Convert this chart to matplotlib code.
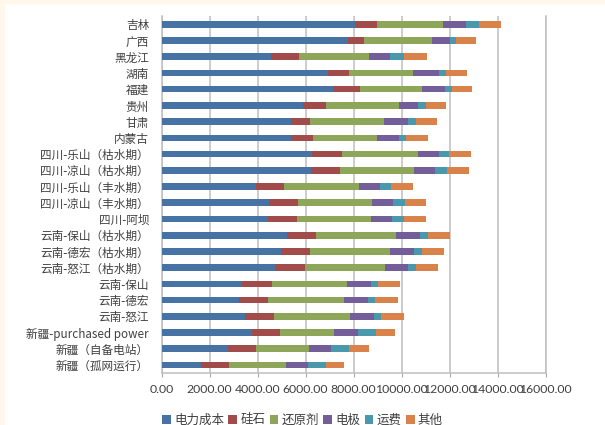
import matplotlib
matplotlib.use('Agg')
import matplotlib.pyplot as plt
from matplotlib.ticker import FormatStrFormatter
from matplotlib.patches import Rectangle
import numpy as np

plt.rcParams['font.family'] = ['Noto Sans CJK SC', 'DejaVu Sans']

# categories, top to bottom
regions = ['吉林', '广西', '黑龙江', '湖南', '福建', '贵州', '甘肃', '内蒙古',
           '四川-乐山（枯水期）', '四川-凉山（枯水期）', '四川-乐山（丰水期）',
           '四川-凉山（丰水期）', '四川-阿坝', '云南-保山（枯水期）',
           '云南-德宏（枯水期）', '云南-怒江（枯水期）', '云南-保山', '云南-德宏',
           '云南-怒江', '新疆-purchased power', '新疆（自备电站）', '新疆（孤网运行）']

power = [8060, 7760, 4550, 6930, 7130, 5910, 5380, 5380, 6270, 6220, 3930,
         4490, 4430, 5240, 4980, 4740, 3370, 3240, 3490, 3770, 2760, 1650]
silica = [900, 690, 1190, 890, 1120, 960, 790, 920, 1250, 1220, 1150,
          1180, 1220, 1200, 1220, 1220, 1220, 1200, 1200, 1180, 1190, 1180]
reductant = [2780, 2810, 2880, 2640, 2610, 3040, 3100, 2680, 3150, 3070, 3140,
             3080, 3080, 3330, 3330, 3330, 3130, 3170, 3170, 2230, 2210, 2350]
electrode = [920, 760, 900, 1100, 960, 790, 1010, 920, 880, 880, 890,
             880, 880, 1010, 1000, 980, 1010, 970, 990, 1000, 900, 900]
freight = [580, 250, 580, 300, 280, 310, 310, 290, 440, 510, 430,
           510, 500, 310, 310, 310, 280, 320, 300, 760, 760, 750]
other = [890, 830, 960, 880, 820, 820, 890, 900, 890, 890, 920,
         890, 900, 930, 930, 920, 930, 930, 950, 790, 810, 790]

series_names = ['电力成本', '硅石', '还原剂', '电极', '运费', '其他']
series = [power, silica, reductant, electrode, freight, other]
colors = ['#4672A4', '#A24B4B', '#8DA65A', '#735E99', '#4A98AB', '#D9834A']

fig = plt.figure(figsize=(6.05, 4.25), dpi=100)
# cream frame strips of the screenshot
fig.patches.append(Rectangle((0, 0), 0.006, 1, transform=fig.transFigure, color='#FFF8EA', zorder=0))
fig.patches.append(Rectangle((0, 0.993), 1, 0.007, transform=fig.transFigure, color='#FFF8EA', zorder=0))

ax = fig.add_axes([0.267, 0.122, 0.635, 0.84])

y = np.arange(len(regions))
left = np.zeros(len(regions))
for name, vals, c in zip(series_names, series, colors):
    ax.barh(y, vals, left=left, height=0.41, color=c, label=name, zorder=3)
    left += np.array(vals)

ax.set_xlim(0, 16000)
ax.set_ylim(len(regions) - 0.5, -0.5)
ax.set_xticks(np.arange(0, 16001, 2000))
ax.xaxis.set_major_formatter(FormatStrFormatter('%.2f'))
ax.set_yticks(y)
ax.set_yticklabels(regions, fontsize=8.4, color='#404040')
for lbl in ax.get_xticklabels():
    lbl.set_fontfamily('Lato')
    lbl.set_fontsize(8.8)
    lbl.set_color('#404040')

ax.grid(axis='x', color='#BFBFBF', linewidth=1.1, zorder=0)
ax.tick_params(axis='y', length=0, pad=9)
ax.tick_params(axis='x', length=3, color='#A6A6A6', pad=5)
ax.spines['top'].set_visible(False)
for s in ['left', 'bottom', 'right']:
    ax.spines[s].set_color('#BFBFBF')
    ax.spines[s].set_linewidth(1.1)

fig.legend(loc='lower center', bbox_to_anchor=(0.5, -0.03), ncol=6, frameon=False,
           fontsize=9, handlelength=0.7, handleheight=0.7, handletextpad=0.25,
           columnspacing=0.35, labelcolor='#404040')

fig.savefig('out.png', dpi=100)
